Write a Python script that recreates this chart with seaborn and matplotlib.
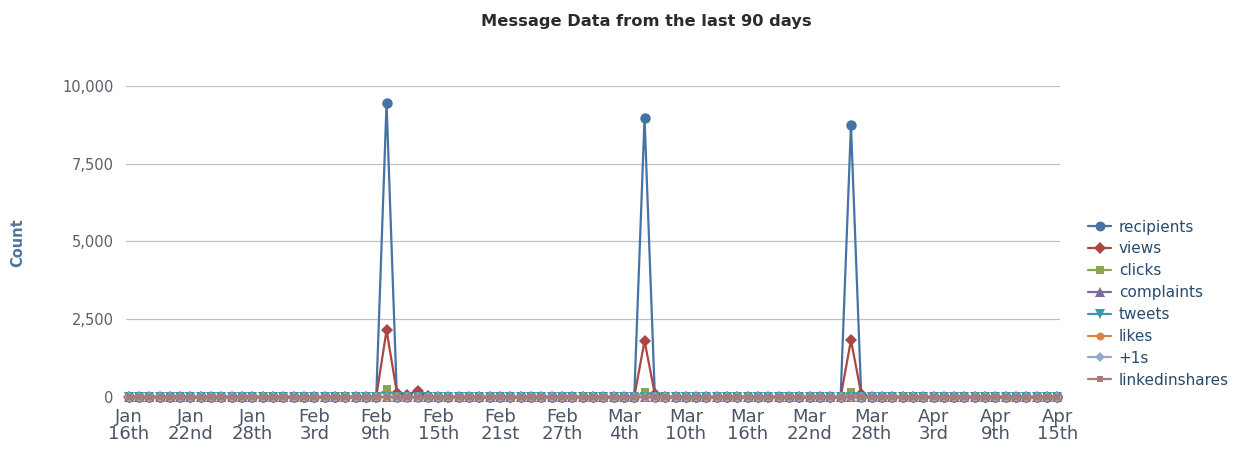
import pandas as pd
import matplotlib
matplotlib.use('Agg')
import matplotlib.pyplot as plt
from matplotlib.lines import Line2D
import matplotlib.ticker as mticker
import seaborn as sns

# Daily points, Jan 16th .. Apr 15th (91 days)
dates = pd.date_range('2012-01-16', '2012-04-15', freq='D')

recipients = [
    0, 0, 0, 0, 0, 0, 0, 0, 0, 0,
    0, 0, 0, 0, 0, 0, 0, 0, 0, 0,
    0, 0, 0, 0, 0, 9450, 0, 0, 0, 0,
    0, 0, 0, 0, 0, 0, 0, 0, 0, 0,
    0, 0, 0, 0, 0, 0, 0, 0, 0, 0,
    8970, 0, 0, 0, 0, 0, 0, 0, 0, 0,
    0, 0, 0, 0, 0, 0, 0, 0, 0, 0,
    8750, 0, 0, 0, 0, 0, 0, 0, 0, 0,
    0, 0, 0, 0, 0, 0, 0, 0, 0, 0,
    0,
]
views = [
    0, 0, 0, 0, 0, 0, 0, 0, 0, 0,
    0, 0, 0, 0, 0, 0, 0, 0, 0, 0,
    0, 0, 0, 0, 0, 2150, 140, 60, 200, 30,
    0, 0, 0, 0, 0, 0, 0, 0, 0, 0,
    0, 0, 0, 0, 0, 0, 0, 0, 0, 0,
    1800, 90, 0, 0, 0, 0, 0, 0, 0, 0,
    0, 0, 0, 0, 0, 0, 0, 0, 0, 0,
    1830, 90, 0, 0, 0, 0, 0, 0, 0, 0,
    0, 0, 0, 0, 0, 0, 0, 0, 0, 0,
    0,
]
clicks = [
    0, 0, 0, 0, 0, 0, 0, 0, 0, 0,
    0, 0, 0, 0, 0, 0, 0, 0, 0, 0,
    0, 0, 0, 0, 0, 260, 0, 0, 0, 0,
    0, 0, 0, 0, 0, 0, 0, 0, 0, 0,
    0, 0, 0, 0, 0, 0, 0, 0, 0, 0,
    160, 0, 0, 0, 0, 0, 0, 0, 0, 0,
    0, 0, 0, 0, 0, 0, 0, 0, 0, 0,
    150, 0, 0, 0, 0, 0, 0, 0, 0, 0,
    0, 0, 0, 0, 0, 0, 0, 0, 0, 0,
    0,
]
# these series stay at zero for the whole period
complaints = [0] * len(dates)
tweets = [0] * len(dates)
likes = [0] * len(dates)
plus_ones = [0] * len(dates)
linkedinshares = [0] * len(dates)

series_names = ['recipients', 'views', 'clicks', 'complaints', 'tweets',
                'likes', '+1s', 'linkedinshares']
tick_labels = ['Jan\n16th', 'Jan\n22nd', 'Jan\n28th', 'Feb\n3rd', 'Feb\n9th',
               'Feb\n15th', 'Feb\n21st', 'Feb\n27th', 'Mar\n4th', 'Mar\n10th',
               'Mar\n16th', 'Mar\n22nd', 'Mar\n28th', 'Apr\n3rd', 'Apr\n9th',
               'Apr\n15th']

colors = ['#4572A7', '#AA4643', '#89A54E', '#80699B', '#3D96AE',
          '#DB843D', '#92A8CD', '#A47D7C']
marker_list = ['o', 'D', 's', '^', 'v', 'o', 'D', 's']
marker_sizes = [7.5, 6, 5.5, 7, 7, 6, 5.5, 5]

df = pd.DataFrame({'date': dates, 'recipients': recipients, 'views': views,
                   'clicks': clicks, 'complaints': complaints, 'tweets': tweets,
                   'likes': likes, '+1s': plus_ones,
                   'linkedinshares': linkedinshares})
long_df = df.melt(id_vars='date', var_name='series', value_name='count')

sns.set_style('white')
plt.rcParams['font.family'] = ['DejaVu Sans']

fig = plt.figure(figsize=(12.41, 4.55), dpi=100)
ax = fig.add_axes([0.1015, 0.1275, 0.7526, 0.6835])

sns.lineplot(data=long_df, x='date', y='count', hue='series', style='series',
             hue_order=series_names, style_order=series_names,
             palette=dict(zip(series_names, colors)),
             markers=dict(zip(series_names, marker_list)), dashes=False,
             linewidth=1.6, markeredgewidth=0, ax=ax, legend=False)

for line, ms in zip(ax.lines, marker_sizes):
    line.set_markersize(ms)
    line.set_clip_on(False)

ax.set_ylim(0, 10000)
ax.set_xlim(dates[0] - pd.Timedelta(hours=6), dates[-1] + pd.Timedelta(hours=6))
ax.set_yticks([0, 2500, 5000, 7500, 10000])
ax.yaxis.set_major_formatter(mticker.FuncFormatter(lambda v, p: f'{int(v):,}'))
ax.set_xticks(dates[::6])
ax.set_xticklabels(tick_labels, linespacing=0.95)
ax.set_xticks(dates, minor=True)

ax.grid(axis='y', color='#C0C0C0', linewidth=0.9)
ax.set_axisbelow(True)
for side in ['top', 'right', 'left']:
    ax.spines[side].set_visible(False)
ax.spines['bottom'].set_color('#C0D0E0')
ax.spines['bottom'].set_linewidth(1.5)
ax.spines['bottom'].set_zorder(1)

ax.tick_params(axis='x', which='both', direction='out', length=4, width=1,
               color='#C0D0E0', labelsize=13, labelcolor='#4a5566', pad=4)
ax.tick_params(axis='y', length=0, labelsize=10.5, labelcolor='#5a6068', pad=9)

ax.set_xlabel('')
ax.set_ylabel('')
fig.text(0.0145, 0.466, 'Count', rotation=90, ha='center', va='center',
         fontsize=10.5, fontweight='bold', color='#4d759e')
fig.text(0.521, 0.953, 'Message Data from the last 90 days', ha='center',
         va='center', fontsize=11.7, fontweight='bold', color='#2b2b2b')

handles = [Line2D([0], [0], color=c, marker=m, markersize=ms * 0.95,
                  markeredgewidth=0, linewidth=1.6)
           for c, m, ms in zip(colors, marker_list, marker_sizes)]
leg = fig.legend(handles, series_names, loc='upper left',
                 bbox_to_anchor=(0.872, 0.531), frameon=False, fontsize=11,
                 handlelength=1.5, handletextpad=0.5, labelspacing=0.45,
                 borderaxespad=0)
for t in leg.get_texts():
    t.set_color('#274b6d')

fig.savefig('out.png', dpi=100)
